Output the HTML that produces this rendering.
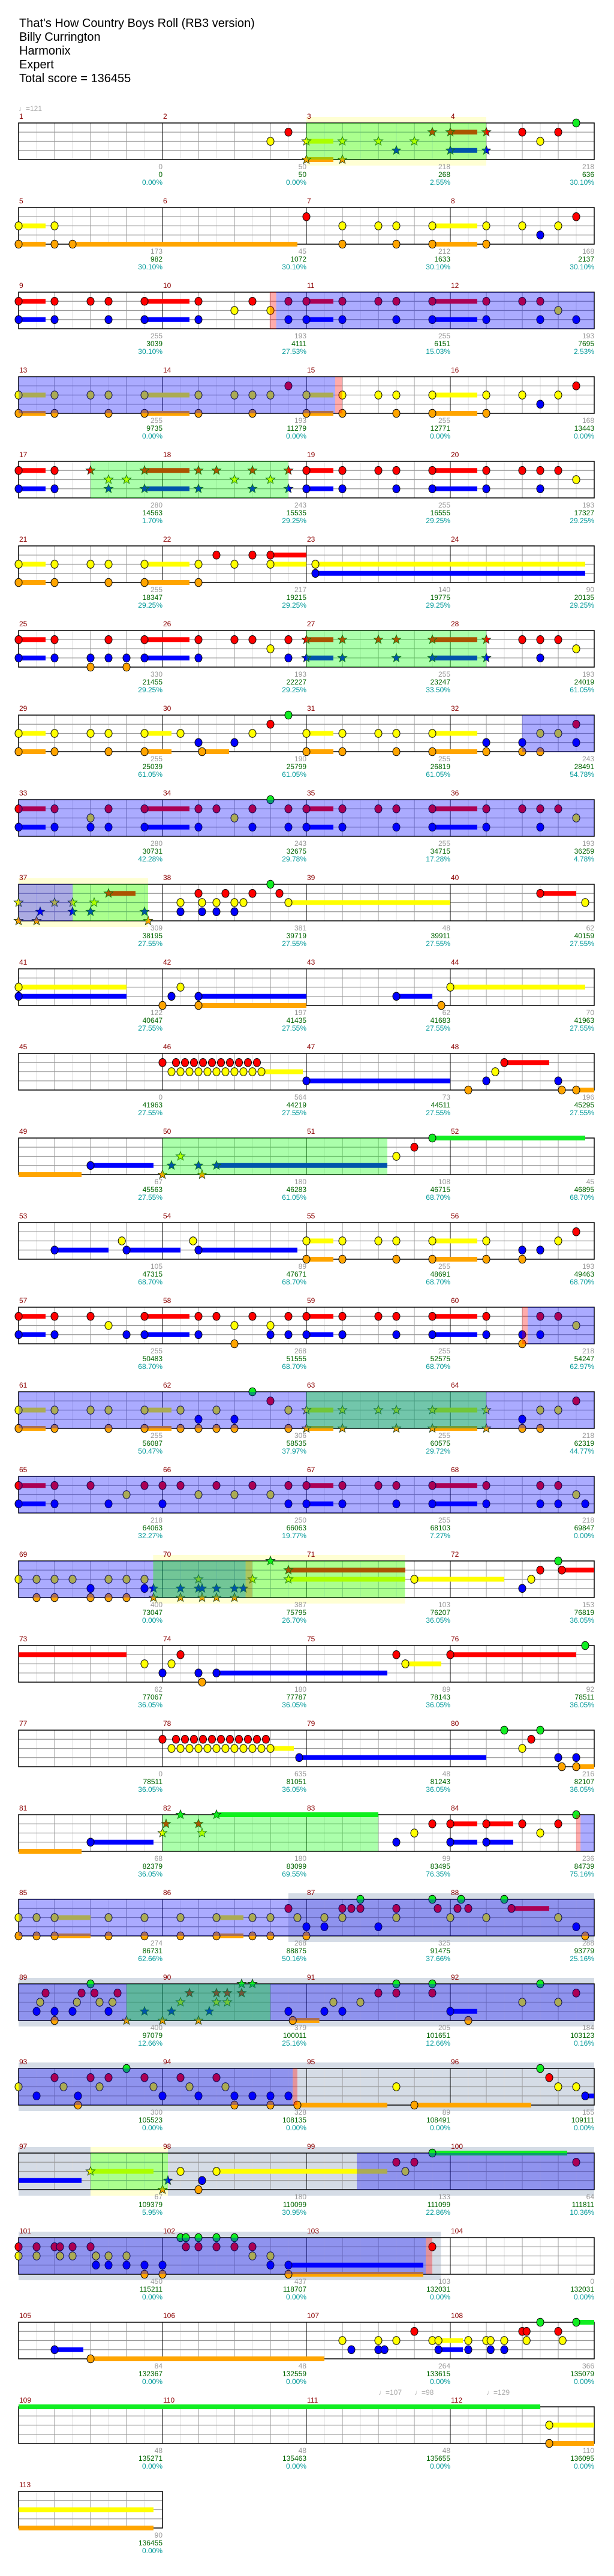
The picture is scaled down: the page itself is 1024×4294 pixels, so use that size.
<!DOCTYPE html>
<html><head><meta charset="utf-8"><style>
html,body{margin:0;padding:0;background:#fff;}
#t{position:absolute;left:32px;top:28px;font-family:"Liberation Sans",sans-serif;font-size:20px;line-height:23px;color:#000;}
svg{position:absolute;left:0;top:0;}
</style></head><body>
<div id="t">That's How Country Boys Roll (RB3 version)<br>Billy Currington<br>Harmonix<br>Expert<br>Total score = 136455</div>
<svg id="s" width="1024" height="4294" xmlns="http://www.w3.org/2000/svg" font-family="Liberation Sans, sans-serif"></svg>
<script>
const R=[
{b:[["ly",8,13]],o:[["g",8,13]],t:[[0,"♩=121"]],n:"R7.5 Y7 Y*8-8.75 O*8-8.75 Y*9 O*9 Y*10 Y*11 R*11.5 B*10.5 R*12-12.75 B*12-12.75 R*13 B*13 R14 R15 Y14.5 G15.5",u:[["0","0","0.00%"],["50","50","0.00%"],["218","268","2.55%"],["218","636","30.10%"]]},
{n:"Y0-.75 Y1 O0-.75 O1 O1.5-7.75 R8 Y9 Y10 Y10.5 O9 O10.5 Y11.5-12.75 O11.5-12.75 Y13 O13 Y14 Y15 B14.5 R15.5",u:[["173","982","30.10%"],["45","1072","30.10%"],["212","1633","30.10%"],["168","2137","30.10%"]]},
{o:[["p",6.98,7.16],["bl",7.16,16]],n:"R0-.75 B0-.75 R1 B1 R2 R2.5 B2.5 R3.5-4.75 B3.5-4.75 R5 B5 R6.5 Y6 Y7 R7.5 B7.5 R8-8.75 B8-8.75 R9 B9 R10 R10.5 B10.5 R11.5-12.75 B11.5-12.75 R13 B13 R14 R14.5 Y15 B14.5 B15.5",u:[["255","3039","30.10%"],["193","4111","27.53%"],["255","6151","15.03%"],["193","7695","2.53%"]]},
{o:[["bl",0,8.8],["p",8.8,9]],n:"Y0-.75 O0-.75 Y1 O1 Y2 Y2.5 O2.5 Y3.5-4.75 O3.5-4.75 Y5 O5 Y6 Y6.5 O6.5 Y7 R7.5 Y8-8.75 O8-8.75 Y9 O9 Y10 Y10.5 O10.5 Y11.5-12.75 O11.5-12.75 Y13 O13 Y14 B14.5 Y15 R15.5",u:[["255","9735","0.00%"],["193","11279","0.00%"],["255","12771","0.00%"],["168","13443","0.00%"]]},
{o:[["g",2,7.5]],n:"R0-.75 B0-.75 R1 B1 R*2 Y*2.5 Y*3 B*2.5 R*3.5-4.75 B*3.5-4.75 R*5 B*5 R*5.5 Y*6 R*6.5 B*6.5 Y*7 R*7.5 B*7.5 R8-8.75 B8-8.75 R9 B9 R10 R10.5 B10.5 R11.5-12.75 B11.5-12.75 R13 B13 R14 R14.5 R15 B14.5 Y15.5",u:[["280","14563","1.70%"],["243","15535","29.25%"],["255","16555","29.25%"],["193","17327","29.25%"]]},
{n:"Y0-.75 O0-.75 Y1 O1 Y2 Y2.5 O2.5 Y3.5-4.75 O3.5-4.75 Y5 O5 R5.5 Y6 R6.5 R7-8 Y7-8 Y8.25-15.75 B8.25-15.75",u:[["255","18347","29.25%"],["217","19215","29.25%"],["140","19775","29.25%"],["90","20135","29.25%"]]},
{o:[["g",8,13]],n:"R0-.75 B0-.75 R1 B1 B2 O2 R2.5 B2.5 B3 O3 R3.5-4.75 B3.5-4.75 R5 B5 R6 R6.5 Y7 R7.5 B7.5 R*8-8.75 B*8-8.75 R*9 B*9 R*10 R*10.5 B*10.5 R*11.5-12.75 B*11.5-12.75 R*13 B*13 R14 R14.5 R15 B14.5 Y15.5",u:[["330","21455","29.25%"],["193","22227","29.25%"],["255","23247","33.50%"],["193","24019","61.05%"]]},
{o:[["bl",14,16]],n:"Y0-.75 O0-.75 Y1 O1 Y2 Y2.5 O2.5 Y3.5-4.25 O3.5-4.25 Y4.5 B5 O5.1-5.85 B6 Y6.5 R7 G7.5 Y8-8.75 O8-8.75 Y9 O9 Y10 Y10.5 O10.5 Y11.5-12.75 O11.5-12.75 B13 O13 B14 O14 Y14.5 O14.5 Y15 R15.5 B15.5",u:[["255","25039","61.05%"],["190","25799","61.05%"],["255","26819","61.05%"],["243","28491","54.78%"]]},
{o:[["bl",0,16]],n:"R0-.75 B0-.75 R1 B1 Y2 B2 R2.5 B2.5 R3.5-4.75 B3.5-4.75 R5 B5 R5.5 Y6 R6.5 B6.5 G7 R7.5 B7.5 R8-8.75 B8-8.75 R9 B9 R10 R10.5 B10.5 R11.5-12.75 B11.5-12.75 R13 B13 R14 R14.5 R15 B14.5 Y15.5",u:[["280","30731","42.28%"],["243","32675","29.78%"],["255","34715","17.28%"],["193","36259","4.78%"]]},
{b:[["ly",0,3.6]],o:[["bl",0,1.5],["g",1.5,3.6]],n:"Y*0 O*0 O*0.5 B*0.6 Y*1 Y*1.5 B*1.5 B*2 Y*2.1 R*2.5-3.25 B*3.5 O*3.6 Y4.5 B4.5 R5 Y5.1 B5.1 Y5.5 B5.5 R5.75 Y6 B6 Y6.25 R6.5 G7 R7.25 Y7.5-12 R14.5-15.5 Y15.75",u:[["309","38195","27.55%"],["381","39719","27.55%"],["48","39911","27.55%"],["62","40159","27.55%"]]},
{n:"Y0-3 B0-3 O4 Y4.5 B4.25 B5-8 O5-8 B10.5-11.5 O11.75 Y12-15.75",u:[["122","40647","27.55%"],["197","41435","27.55%"],["62","41683","27.55%"],["70","41963","27.55%"]]},
{n:"R4 R4.375 R4.625 R4.875 R5.125 R5.375 R5.625 R5.875 R6.125 R6.375 R6.625 Y4.25 Y4.5 Y4.75 Y5 Y5.25 Y5.5 Y5.75 Y6 Y6.25 Y6.5 Y6.75-7.9 B8-12 O12.5 Y13.25 R13.5-14.75 B13 B15 O15.1 O15.5-16",u:[["0","41963","27.55%"],["564","44219","27.55%"],["73","44511","27.55%"],["196","45295","27.55%"]]},
{o:[["g",4,10.25]],n:"_O0-1.75 B2-3.75 Y*4.5 B*4.25 B*5 B*5.5-10.25 O*4 O*5.1 Y10.5 R11 G11.5-15.75",u:[["67","45563","27.55%"],["180","46283","61.05%"],["108","46715","68.70%"],["45","46895","68.70%"]]},
{n:"B1-2.5 Y2.87 B3-4.5 Y4.85 B5-7.75 Y8-8.75 O8-8.75 Y9 O9 Y10 Y10.5 O10.5 Y11.5-12.75 O11.5-12.75 Y13 O13 B14 O14 B14.5 Y15 R15.5",u:[["105","47315","68.70%"],["89","47671","68.70%"],["255","48691","68.70%"],["193","49463","68.70%"]]},
{o:[["p",14,14.15],["bl",14.15,16]],n:"R0-.75 B0-.75 R1 B1 R2 Y2.5 B3 R3.5-4.75 B3.5-4.75 R5 B5 R5.5 Y6 O6 R6.5 Y7 B7 R7.5 B7.5 R8-8.75 B8-8.75 R9 B9 R10 R10.5 B10.5 R11.5-12.75 B11.5-12.75 R13 B13 B14 O14 R14.5 B14.5 R15 Y15.5",u:[["255","50483","68.70%"],["268","51555","68.70%"],["255","52575","68.70%"],["218","54247","62.97%"]]},
{o:[["bl",0,16],["g",8,13]],n:"Y0-.75 O0-.75 Y1 O1 Y2 Y2.5 O2.5 Y3.5-4.25 O3.5-4.25 Y4.5 O4.5 B5 O5 Y5.5 O5.5 B6 O6 G6.5 R7 Y7.5 O7.5 Y*8-8.75 O*8-8.75 Y*9 O*9 Y*10 Y*10.5 O*10.5 Y*11.5-12.75 O*11.5-12.75 Y*13 O*13 B14 O14 Y14.5 O14.5 Y15 R15.5",u:[["255","56087","50.47%"],["306","58535","37.97%"],["255","60575","29.72%"],["218","62319","44.77%"]]},
{o:[["bl",0,16]],n:"R0-.75 B0-.75 R1 B1 R2 B2.5 Y3 R3.5 R4 B4 R4.5 Y5 R5.5 Y6 R6.5 Y7 R7.5 B7.5 R8-8.75 B8-8.75 R9 B9 R10 R10.5 B10.5 R11.5-12.75 B11.5-12.75 R13 B13 R14.5 B14.5 R15 B15 Y15.5 B15.75",u:[["218","64063","32.27%"],["250","66063","19.77%"],["255","68103","7.27%"],["218","69847","0.00%"]]},
{b:[["ly",3.74,10.74]],o:[["bl",0,6.31],["p",6.31,6.5],["g",3.74,10.74]],n:"Y0 Y0.5 O0.5 Y1 O1 Y1.5 B2 O2 Y2.5 O2.5 Y3 O3 Y3.5 B3.5 B*3.75 O*3.75 B*4.5 O*4.5 Y*5 B*5 B*5.1 O*5.1 B*5.5 O*5.5 B*6 O*6 B*6.25 Y*6.5 G*7 R*7.5-10.75 Y*7.5-10.75 Y11-13.5 B14 Y14.25 R14.5 G15 R15.1-16",u:[["400","73047","0.00%"],["387","75795","26.70%"],["103","76207","36.05%"],["153","76819","36.05%"]]},
{n:"_R0-3 Y3.5 B4 Y4.25 R4.5 B5 O5.1 B5.5-10.25 R10.5 Y10.75-11.75 R12-15.5 G15.75",u:[["62","77067","36.05%"],["180","77787","36.05%"],["89","78143","36.05%"],["92","78511","36.05%"]]},
{n:"R4 R4.375 R4.625 R4.875 R5.125 R5.375 R5.625 R5.875 R6.125 R6.375 R6.625 R6.875 Y4.25 Y4.5 Y4.75 Y5 Y5.25 Y5.5 Y5.75 Y6 Y6.25 Y6.5 Y6.75 Y7-7.65 B7.8-13 G13.5 G14.5 R14.25 Y14 B15 B15.5 O15.1 O15.5-16",u:[["0","78511","36.05%"],["635","81051","36.05%"],["48","81243","36.05%"],["216","82107","36.05%"]]},
{o:[["g",4,10],["p",15.5,15.62],["bl",15.62,16]],n:"_O0-1.75 B2-3.75 G*4.5 G*5.5-10 R*4.1 R*5 Y*4 Y*5.1 B10.5 Y11 R11.5 R12-12.75 B12-12.75 R13-13.75 B13-13.75 R14 Y14.5 R15 G15.5",u:[["68","82379","36.05%"],["180","83099","69.55%"],["99","83495","76.35%"],["236","84739","75.16%"]]},
{b:[["gr",7.5,16]],o:[["bl",0,16]],n:"Y0 O0 Y0.5 O0.5 Y1-2 O1-2 Y2.5 O2.5 Y3.5 O3.5 Y4.5 O4.5 Y5.5-6.25 O5.5-6.25 Y6.5 O6.5 Y7 O7 R7.5 Y7.75 B8 O8 B8.5 Y8.5 R9 Y9 R9.25 R9.5 G9.5 B10 R10.5 Y10.5 G11.5 R11.65 Y12 G12.3 R12.2 R12.5 Y13 G13.5 R13.7-14.75 Y15 B15.5 O15.75",u:[["274","86731","62.66%"],["268","88875","50.16%"],["325","91475","37.66%"],["288","93779","25.16%"]]},
{b:[["gr",0,16]],o:[["bl",0,16],["g",3,7]],n:"R0.75 Y0.6 B0.5 B1 O1 Y1.62 R1.75 B1.5 G2 R2.11 Y2.25 B2.5 Y2.61 R2.75 O*3 B*3.5 O*4 B*4.25 Y*4.5 R*4.75 O*5 B*5.3 Y*5.5 R*5.5 Y*5.8 R*5.8 G*6.2 R*6.2 G*6.5 B7.5 O7.62-8.36 Y8.75 B8.5 B9 Y9.5 R10 G10.5 R10.5 G11.5 R11.5 B12-12.75 O12.5 Y14 G14.5 Y15 R15.5",u:[["400","97079","12.66%"],["379","100011","25.16%"],["205","101651","12.66%"],["184","103123","0.16%"]]},
{b:[["gr",0,16]],o:[["bl",0,7.62],["p",7.62,7.75]],n:"Y0 B0.5 R1 Y1.25 O1.65 B1.65 R2 Y2.25 R2.5 G3 R3.5 Y3.75 B4 R4.5 Y4.75 B5 R5.5 Y5.75 B6 O6 B6.5 B7 O7 B7.5 O7.75-10.25 Y10.5 O11-14.25 G14.5 R14.75 Y15 Y15.5 B15.75-16",u:[["300","105523","0.00%"],["328","108135","0.00%"],["89","108491","0.00%"],["155","109111","0.00%"]]},
{b:[["gr",0,16],["ly",2,4.15]],o:[["g",2,4.15],["bl",9.4,16]],n:"_B0-1.75 Y*2-3.75 B*4.15 O*4 Y4.5 B5.1 O5 Y5.5-10.25 Y10.75 R10.5 R11 G11.5-15.25 R15.5",u:[["67","109379","5.95%"],["180","110099","30.95%"],["133","111099","22.86%"],["64","111811","10.36%"]]},
{b:[["gr",0,11.74]],o:[["bl",0,11.32],["p",11.32,11.5]],n:"R0 Y0 R0.5 Y0.5 R1 R1.15 Y1.15 R1.5 Y1.5 R2 Y2.15 B2.15 Y2.5 B2.5 Y3 B3 B3.5 O3.5 B4 O4 G4.5 G4.65 R4.65 G5 R5 G5.5 R5.5 G6 R6 R6.5 Y6.5 Y7 B7 B7.5-11.25 O7.5-11.25 R11.5",u:[["450","115211","0.00%"],["437","118707","0.00%"],["103","132031","0.00%"],["0","132031","0.00%"]]},
{n:"B1-1.8 O2-8.5 Y9 B9.25 Y10 B10 B10.17 Y10.5 R11 Y11.5 Y11.67-12.35 B11.67-12.35 Y12.5 B12.5 Y13 Y13.12 B13.12 Y13.5 B13.5 R14 R14.12 Y14.12 G14.5 R15 Y15.12 G15.5-16",u:[["84","132367","0.00%"],["48","132559","0.00%"],["264","133615","0.00%"],["366","135079","0.00%"]]},
{t:[[10,"♩=107"],[11,"♩=98"],[13,"♩=129"]],n:"_G0-14.5 Y14.75-16 O14.75-16",u:[["48","135271","0.00%"],["48","135463","0.00%"],["48","135655","0.00%"],["110","136095","0.00%"]]},
{m:1,n:"_Y0-3.75 _O0-3.75",u:[["90","136455","0.00%"]]}
];
const NS="http://www.w3.org/2000/svg",S=document.getElementById("s");
function el(t,a,txt){const e=document.createElementNS(NS,t);for(const k in a)e.setAttribute(k,a[k]);if(txt!=null)e.textContent=txt;S.appendChild(e);return e;}
const C={G:"#11ee22",R:"#ff0000",Y:"#ffff00",B:"#0000ff",O:"#ffa500"},LI={G:0,R:1,Y:2,B:3,O:4},LY=[0,15.25,30.5,45.75,61];
const X=b=>31+60*b;
const OV={g:"rgba(0,255,0,0.33)",bl:"rgba(0,0,255,0.33)",p:"rgba(255,0,0,0.33)"},BD={ly:"#ffffd4",gr:"#d5dce6"};
function star(cx,cy,r,f){let p=[];for(let i=0;i<10;i++){const a=-Math.PI/2+i*Math.PI/5,rr=i%2?r*0.42:r;p.push((cx+rr*Math.cos(a)).toFixed(1)+","+(cy+rr*Math.sin(a)).toFixed(1));}el("polygon",{points:p.join(" "),fill:f,stroke:"#113311","stroke-width":"0.8"});}
R.forEach((r,i)=>{
 const top=205+141*i,m=r.m||4,w=240*m,bot=top+61;
 (r.b||[]).forEach(b=>el("rect",{x:X(b[1]),y:top-10,width:60*(b[2]-b[1]),height:81,fill:BD[b[0]]}));
 for(let k=1;k<m*8;k++){if(k%8==0)continue;el("line",{x1:31+30*k,y1:top,x2:31+30*k,y2:bot,stroke:k%2?"#dddddd":"#999999","stroke-width":1});}
 for(let j=1;j<4;j++)el("line",{x1:31,y1:top+LY[j],x2:31+w,y2:top+LY[j],stroke:"#999999","stroke-width":1.2});
 for(let k=1;k<m;k++)el("line",{x1:31+240*k,y1:top,x2:31+240*k,y2:bot,stroke:"#000","stroke-width":1});
 el("rect",{x:31,y:top,width:w,height:61,fill:"none",stroke:"#000","stroke-width":1.5});
 const toks=r.n.split(" ").filter(s=>s),heads=[];
 toks.forEach(t=>{const mm=t.match(/^(_?)([GRYBO])(\*?)([\d.]+)(?:-([\d.]+))?$/);if(!mm)return;const L=mm[2],b=+mm[4],y=top+LY[LI[L]];
  if(mm[5])el("rect",{x:X(b),y:y-4,width:60*(+mm[5]-b),height:8,fill:C[L]});
  if(!mm[1])heads.push([L,b,y,mm[3]]);});
 heads.forEach(h=>{if(h[3])star(X(h[1]),h[2],8,C[h[0]]);else el("ellipse",{cx:X(h[1]),cy:h[2],rx:6,ry:6.8,fill:C[h[0]],stroke:"#000","stroke-width":1});});
 (r.o||[]).forEach(o=>el("rect",{x:X(o[1]),y:top,width:60*(o[2]-o[1]),height:61,fill:OV[o[0]]}));
 for(let k=0;k<m;k++)el("text",{x:32+240*k,y:top-7,fill:"#8b0000","font-size":12},String(1+4*i+k));
 (r.t||[]).forEach(t=>el("text",{x:X(t[0]),y:top-20,fill:"#aaaaaa","font-size":12},t[1]));
 r.u.forEach((u,k)=>{const x=31+240*(k+1);
  el("text",{x:x,y:top+77,fill:"#999999","font-size":12,"text-anchor":"end"},u[0]);
  el("text",{x:x,y:top+90,fill:"#006400","font-size":12,"text-anchor":"end"},u[1]);
  el("text",{x:x,y:top+103,fill:"#009999","font-size":12,"text-anchor":"end"},u[2]);});
});
</script>
</body></html>
